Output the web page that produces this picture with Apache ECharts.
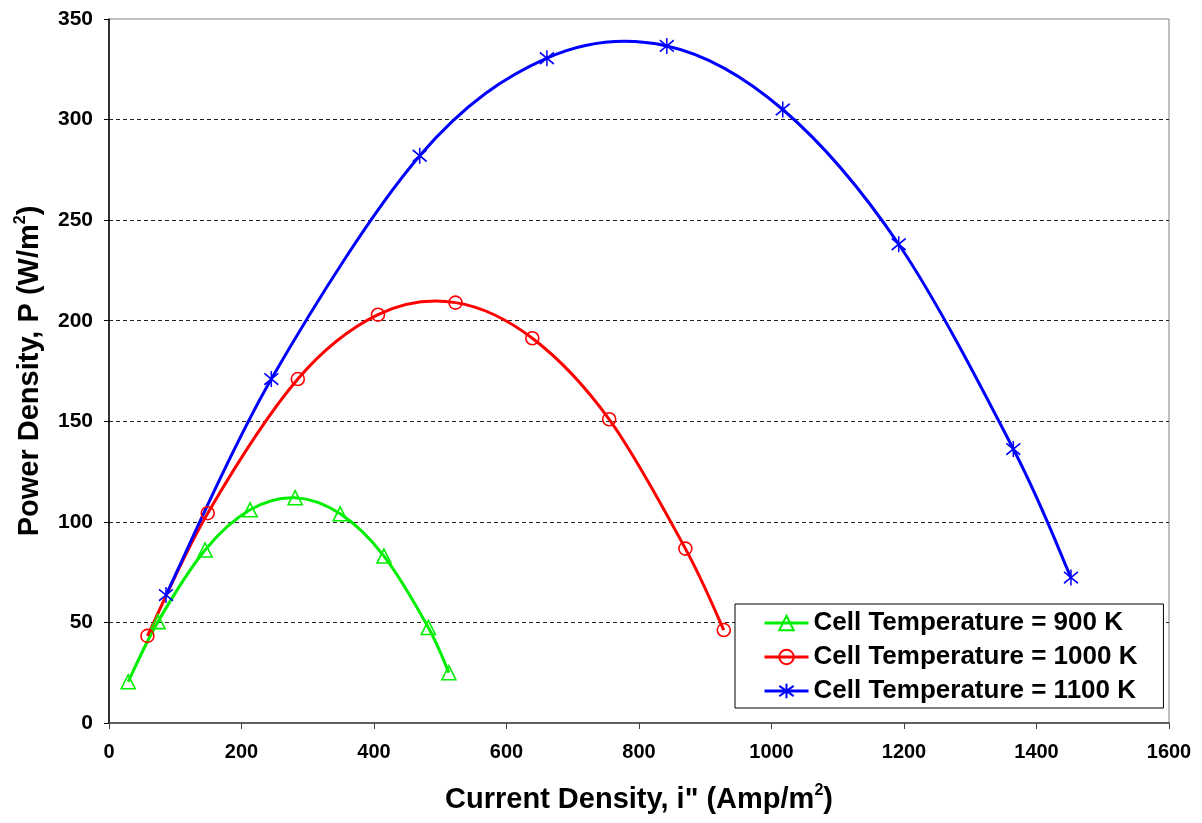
<!DOCTYPE html>
<html>
<head>
<meta charset="utf-8">
<script src="https://cdn.jsdelivr.net/npm/echarts@6/dist/echarts.min.js"></script>
<style>
  html, body { margin: 0; padding: 0; background: #fff; }
  #main { width: 1202px; height: 823px; }
</style>
</head>
<body>
<div id="main"></div>
<script>
// data
var names = ['Cell Temperature = 900 K', 'Cell Temperature = 1000 K', 'Cell Temperature = 1100 K'];
var colors = ['#00ee00', '#ff0000', '#0000ff'];
var x900 = [29, 74, 145, 213, 281, 349, 415, 482, 513];
var p900 = [20.5, 50.4, 86, 106, 112, 104, 83, 47.5, 25];
var x1000 = [58, 149, 285, 406, 523, 639, 755, 870, 928];
var p1000 = [43.3, 104.3, 171, 203, 209, 191.3, 151, 86.7, 46.2];
var x1100 = [86, 245, 469, 661, 842, 1017, 1192, 1365, 1452];
var p1100 = [63.6, 171, 282, 330.5, 336.6, 305, 238, 136.2, 72.3];

function pairs(xs, ys) {
    var list = [];
    for (var i = 0; i < xs.length; i++) {
        list.push([xs[i], ys[i]]);
    }
    return list;
}

var fontName = '"Liberation Sans", Arial, sans-serif';
var star = 'path://M1,2L11,12M11,2L1,12M6,0L6,14';
var supStyle = { fontFamily: fontName, fontWeight: 'bold', fontSize: 16, color: '#000', verticalAlign: 'top', lineHeight: 16 };

// markers + legend entry; the visible curve is drawn by the custom series below
function markerSeries(name, data, color, symbol, size) {
    return {
        name: name,
        type: 'line',
        data: data,
        z: 3,
        symbol: symbol,
        symbolSize: size,
        lineStyle: { color: color, width: 3, opacity: 0 },
        itemStyle: { color: symbol === star ? color : 'rgba(0,0,0,0)', borderColor: color, borderWidth: 1.6 },
        emphasis: { disabled: true }
    };
}

// excel-like smoothed line (catmull-rom through the points, via api.coord)
function curveSeries(data, color) {
    return {
        type: 'custom',
        data: data,
        z: 2,
        silent: true,
        clip: true,
        renderItem: function(params, api) {
            if (params.dataIndex !== 0) {
                return;
            }
            var pts = [];
            for (var i = 0; i < data.length; i++) {
                pts.push(api.coord(data[i]));
            }
            var t = 1 / 6;
            var d = 'M' + pts[0][0] + ',' + pts[0][1];
            for (var j = 0; j < pts.length - 1; j++) {
                var p0 = pts[j - 1] || pts[j];
                var p1 = pts[j];
                var p2 = pts[j + 1];
                var p3 = pts[j + 2] || pts[j + 1];
                var c1x = p1[0] + (p2[0] - p0[0]) * t;
                var c1y = p1[1] + (p2[1] - p0[1]) * t;
                var c2x = p2[0] - (p3[0] - p1[0]) * t;
                var c2y = p2[1] - (p3[1] - p1[1]) * t;
                d += 'C' + c1x + ',' + c1y + ',' + c2x + ',' + c2y + ',' + p2[0] + ',' + p2[1];
            }
            return {
                type: 'path',
                shape: { pathData: d },
                style: { stroke: color, lineWidth: 3, fill: 'none' }
            };
        }
    };
}

var myChart = echarts.init(document.getElementById('main'));

var option = {
    backgroundColor: '#fff',
    animation: false,
    textStyle: { fontFamily: fontName },
    grid: {
        left: 109, right: 33, top: 19, bottom: 100,
        show: true, borderColor: '#808080', borderWidth: 1
    },
    legend: {
        orient: 'vertical',
        left: 735, top: 604,
        padding: [6, 26, 4, 28],
        itemWidth: 44, itemHeight: 18, itemGap: 8,
        backgroundColor: '#fff',
        borderColor: '#000', borderWidth: 1,
        lineStyle: { opacity: 1, width: 3 },
        textStyle: { fontFamily: fontName, fontWeight: 'bold', fontSize: 26, color: '#000', lineHeight: 26 },
        data: names
    },
    xAxis: {
        type: 'value',
        min: 0, max: 1600, interval: 200,
        name: 'Current Density, i" (Amp/m{sup|2})',
        nameLocation: 'middle',
        nameGap: 60,
        nameTextStyle: {
            fontFamily: fontName, fontWeight: 'bold', fontSize: 29, color: '#000', lineHeight: 34,
            rich: { sup: supStyle }
        },
        axisLine: { lineStyle: { color: '#404040', width: 1.5 } },
        axisTick: { show: true, inside: false, length: 6, lineStyle: { color: '#404040' } },
        axisLabel: {
            fontFamily: fontName, fontWeight: 'bold', fontSize: 20, color: '#000', margin: 19,
            formatter: function(v) { return String(v); }
        },
        splitLine: { show: false }
    },
    yAxis: {
        type: 'value',
        min: 0, max: 350, interval: 50,
        name: 'Power Density, P (W/m{sup|2})',
        nameLocation: 'middle',
        nameGap: 55,
        nameTextStyle: {
            fontFamily: fontName, fontWeight: 'bold', fontSize: 29, color: '#000', lineHeight: 34,
            rich: { sup: supStyle }
        },
        axisLine: { show: true, lineStyle: { color: '#000', width: 1.5 } },
        axisTick: { show: true, inside: false, length: 5, lineStyle: { color: '#000' } },
        axisLabel: { fontFamily: fontName, fontWeight: 'bold', fontSize: 21, color: '#000', margin: 16 },
        splitLine: { show: true, showMinLine: false, showMaxLine: false, lineStyle: { color: '#222', type: [4, 3], width: 1 } }
    },
    series: [
        markerSeries(names[0], pairs(x900, p900), colors[0], 'triangle', 14),
        markerSeries(names[1], pairs(x1000, p1000), colors[1], 'circle', 13),
        markerSeries(names[2], pairs(x1100, p1100), colors[2], star, [14, 16]),
        curveSeries(pairs(x900, p900), colors[0]),
        curveSeries(pairs(x1000, p1000), colors[1]),
        curveSeries(pairs(x1100, p1100), colors[2])
    ]
};

myChart.setOption(option);
</script>
</body>
</html>
